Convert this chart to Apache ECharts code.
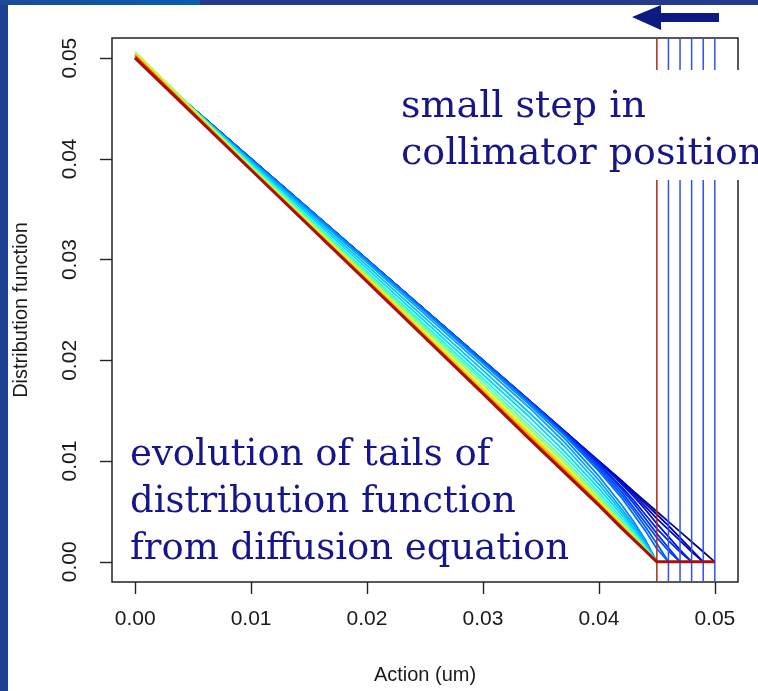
<!DOCTYPE html>
<html>
<head>
<meta charset="utf-8">
<title>Distribution function tails</title>
<script src="https://cdn.jsdelivr.net/npm/echarts@6.0.0/dist/echarts.min.js"></script>
<style>
  html, body { margin: 0; padding: 0; background: #ffffff; }
  #chart { width: 758px; height: 691px; }
</style>
</head>
<body>
<div id="chart"></div>
<script>
// Action grid (um) shared by every profile
const actionGrid = [0, 0.010, 0.020, 0.030, 0.034, 0.037, 0.040, 0.042, 0.043, 0.044, 0.045, 0.046, 0.047, 0.048, 0.049, 0.050];

// Collimator at 0.050: initial profile
const f50 = [0.0500, 0.0400, 0.0300, 0.0200, 0.0160, 0.0130, 0.0100, 0.0080, 0.0070, 0.0060, 0.0050, 0.0040, 0.0030, 0.0020, 0.0010, 0];
// Collimator at 0.049
const f49a = [0.0500, 0.0400, 0.0300, 0.0200, 0.0160, 0.0130, 0.0100, 0.0080, 0.0069, 0.0058, 0.0047, 0.0036, 0.0024, 0.0012, 0, 0];
const f49b = [0.0500, 0.0400, 0.0300, 0.0200, 0.0160, 0.0130, 0.0099, 0.0078, 0.0067, 0.0055, 0.0043, 0.0032, 0.0021, 0.0010, 0, 0];
// Collimator at 0.048
const f48a = [0.0500, 0.0400, 0.0300, 0.0200, 0.0160, 0.0130, 0.0099, 0.0077, 0.0065, 0.0052, 0.0038, 0.0025, 0.0012, 0, 0, 0];
const f48b = [0.0500, 0.0400, 0.0300, 0.0200, 0.0160, 0.0129, 0.0097, 0.0074, 0.0061, 0.0047, 0.0033, 0.0021, 0.0010, 0, 0, 0];
// Collimator at 0.047
const f47a = [0.0500, 0.0400, 0.0300, 0.0200, 0.0160, 0.0129, 0.0096, 0.0072, 0.0058, 0.0043, 0.0028, 0.0014, 0, 0, 0, 0];
const f47b = [0.0500, 0.0400, 0.0300, 0.0200, 0.0159, 0.0128, 0.0094, 0.0069, 0.0054, 0.0039, 0.0024, 0.0011, 0, 0, 0, 0];
// Collimator at 0.046
const f46a = [0.0500, 0.0400, 0.0300, 0.0200, 0.0159, 0.0127, 0.0092, 0.0066, 0.0051, 0.0035, 0.0018, 0, 0, 0, 0, 0];
const f46b = [0.0500, 0.0400, 0.0300, 0.0199, 0.0158, 0.0126, 0.0090, 0.0063, 0.0047, 0.0031, 0.0013, 0, 0, 0, 0, 0];
// Collimator at 0.045: relaxation towards the final profile
const f45a = [0.0500, 0.0399, 0.0299, 0.0197, 0.0156, 0.0123, 0.0085, 0.0056, 0.0040, 0.0022, 0, 0, 0, 0, 0, 0];
const f45b = [0.0501, 0.0398, 0.0297, 0.0194, 0.0153, 0.0119, 0.0081, 0.0052, 0.0037, 0.0020, 0, 0, 0, 0, 0, 0];
const f45c = [0.0503, 0.0397, 0.0294, 0.0190, 0.0148, 0.0115, 0.0077, 0.0049, 0.0034, 0.0018, 0, 0, 0, 0, 0, 0];
const f45d = [0.0504, 0.0396, 0.0291, 0.0186, 0.0144, 0.0110, 0.0073, 0.0046, 0.0032, 0.0017, 0, 0, 0, 0, 0, 0];
const f45e = [0.0505, 0.0394, 0.0288, 0.0182, 0.0139, 0.0106, 0.0069, 0.0043, 0.0030, 0.0015, 0, 0, 0, 0, 0, 0];
const f45f = [0.0506, 0.0393, 0.0286, 0.0179, 0.0135, 0.0102, 0.0066, 0.0040, 0.0028, 0.0014, 0, 0, 0, 0, 0, 0];
const f45g = [0.0506, 0.0392, 0.0284, 0.0176, 0.0132, 0.0099, 0.0063, 0.0038, 0.0026, 0.0013, 0, 0, 0, 0, 0, 0];
const f45h = [0.0505, 0.0391, 0.0282, 0.0173, 0.0129, 0.0096, 0.0061, 0.0037, 0.0024, 0.0012, 0, 0, 0, 0, 0, 0];
const f45i = [0.0504, 0.0390, 0.0281, 0.0171, 0.0127, 0.0094, 0.0059, 0.0036, 0.0024, 0.0012, 0, 0, 0, 0, 0, 0];
const f45j = [0.0503, 0.0390, 0.0280, 0.0169, 0.0125, 0.0092, 0.0058, 0.0035, 0.0023, 0.0012, 0, 0, 0, 0, 0, 0];
const f45k = [0.0502, 0.0389, 0.0279, 0.0168, 0.0123, 0.0090, 0.0057, 0.0034, 0.0022, 0.0011, 0, 0, 0, 0, 0, 0];
const f45final = [0.0500, 0.0389, 0.0278, 0.0167, 0.0122, 0.0089, 0.0056, 0.0033, 0.0022, 0.0011, 0, 0, 0, 0, 0, 0];

// Collimator positions
const collimatorFinal = [0.045];
const collimatorSteps = [0.046, 0.047, 0.048, 0.049, 0.050];

// Axis extent and tick labels
const axisRange = [-0.002, 0.052];
const tickValues = [0.00, 0.01, 0.02, 0.03, 0.04, 0.05];

// Profiles in time order, and their jet-like colours
const profiles = [f50, f49a, f49b, f48a, f48b, f47a, f47b, f46a, f46b,
  f45a, f45b, f45c, f45d, f45e, f45f, f45g, f45h, f45i, f45j, f45k];
const profileColors = ['#0a0a8a', '#0000a8', '#0008c4', '#0014dc', '#0022f0', '#0030ff', '#0044ff', '#0058ff', '#006cff',
  '#0088ff', '#00a4ff', '#00c0ff', '#00dcff', '#22f6e6', '#5cffa8', '#98ff68', '#d6ff2a', '#ffd400', '#ff9000', '#ff3c00'];

const toPairs = (vals) => actionGrid.map((j, i) => [j, vals[i]]);

const series = profiles.map((vals, i) => ({
  type: 'line',
  data: toPairs(vals),
  showSymbol: false,
  silent: true,
  z: 2,
  lineStyle: { color: profileColors[i], width: 1.8 }
}));

// vertical collimator positions, drawn across the full axis range
const verticalLine = (x, color, width) => ({
  type: 'line',
  data: [[x, axisRange[0]], [x, axisRange[1]]],
  showSymbol: false,
  silent: true,
  z: 3,
  lineStyle: { color: color, width: width }
});
collimatorSteps.forEach(x => series.push(verticalLine(x, '#3050ec', 1.5)));
collimatorFinal.forEach(x => series.push(verticalLine(x, '#b0281a', 1.5)));

// final profile on top
series.push({
  type: 'line',
  data: toPairs(f45final),
  showSymbol: false,
  silent: true,
  z: 4,
  lineStyle: { color: '#a81008', width: 3 }
});

const axisFont = { fontFamily: 'Liberation Sans', color: '#1a1a1a' };

const option = {
  animation: false,
  backgroundColor: '#ffffff',
  grid: {
    left: 112, right: 20, top: 38, bottom: 109,
    show: true, borderColor: '#222222', borderWidth: 1.5, backgroundColor: 'transparent'
  },
  xAxis: {
    type: 'value', min: axisRange[0], max: axisRange[1],
    axisLine: { show: false, onZero: false },
    splitLine: { show: false },
    axisTick: { show: true, inside: false, length: 12, customValues: tickValues, lineStyle: { color: '#222', width: 1.4 } },
    axisLabel: { customValues: tickValues, formatter: v => v.toFixed(2), margin: 27, fontSize: 21, ...axisFont },
    name: 'Action (um)', nameLocation: 'middle', nameGap: 83,
    nameTextStyle: { fontSize: 20, ...axisFont }
  },
  yAxis: {
    type: 'value', min: axisRange[0], max: axisRange[1],
    axisLine: { show: false, onZero: false },
    splitLine: { show: false },
    axisTick: { show: true, inside: false, length: 12, customValues: tickValues, lineStyle: { color: '#222', width: 1.4 } },
    axisLabel: { customValues: tickValues, formatter: v => v.toFixed(2), rotate: 90, margin: 31, fontSize: 21, ...axisFont },
    name: 'Distribution function', nameLocation: 'middle', nameGap: 81, nameRotate: 90,
    nameTextStyle: { fontSize: 20, ...axisFont }
  },
  series: series,
  graphic: [
    // slide frame
    { type: 'rect', z: 100, shape: { x: 0, y: 0, width: 8, height: 691 }, style: { fill: '#1e4090' } },
    { type: 'rect', z: 100, shape: { x: 0, y: 0, width: 758, height: 5 }, style: { fill: '#243b8d' } },
    { type: 'rect', z: 101, shape: { x: 0, y: 0, width: 200, height: 5 },
      style: { fill: new echarts.graphic.LinearGradient(0, 0, 1, 0, [{ offset: 0, color: '#1b4b99' }, { offset: 1, color: '#0a5dad' }]) } },
    // arrow showing the collimator moving inwards
    { type: 'polygon', z: 100, shape: { points: [[632, 17], [661, 5], [661, 13], [719, 13], [719, 22], [661, 22], [661, 30]] },
      style: { fill: '#0c1a84' } },
    // annotation boxes
    { type: 'rect', z: 90, shape: { x: 395, y: 70, width: 363, height: 110 }, style: { fill: '#ffffff' } },
    { type: 'text', z: 91, x: 401, y: 131,
      style: { text: 'small step in\ncollimator position', font: '38px "DejaVu Serif"', fill: '#16168a',
        lineHeight: 47, verticalAlign: 'middle', align: 'left' } },
    { type: 'text', z: 91, x: 130, y: 502,
      style: { text: 'evolution of tails of\ndistribution function\nfrom diffusion equation', font: '37px "DejaVu Serif"', fill: '#16168a',
        lineHeight: 47, verticalAlign: 'middle', align: 'left' } }
  ]
};

const chart = echarts.init(document.getElementById('chart'), null, { renderer: 'canvas' });
chart.setOption(option);
</script>
</body>
</html>
